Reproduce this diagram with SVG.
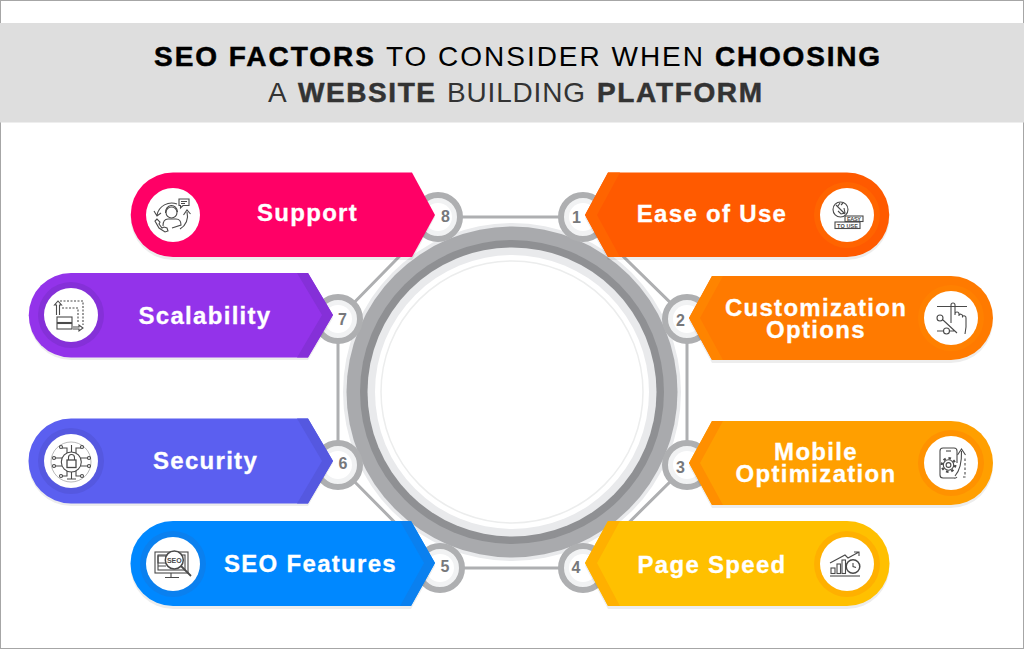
<svg xmlns="http://www.w3.org/2000/svg" width="1024" height="649" viewBox="0 0 1024 649">
<style>
.t{font-family:"Liberation Sans",Arial,sans-serif;font-size:28px}
.b{font-weight:700;stroke-width:.5px}
.k{fill:#000;stroke:#000}
.g{fill:#333;stroke:#333}
.r{stroke:none}
.l{font-family:"Liberation Sans",Arial,sans-serif;font-weight:700;font-size:24px;letter-spacing:1.3px;fill:#fff;stroke:#fff;stroke-width:.3px;text-anchor:middle}
.n{font-family:"Liberation Sans",Arial,sans-serif;font-weight:700;font-size:16px;fill:#77787b;text-anchor:middle}
.c{fill:none;stroke:#aeafb1;stroke-width:3}
.o{fill:#f1f2f3;stroke:#aeafb1;stroke-width:6}
.w{fill:#fff}
.ic{fill:none;stroke:#4a4a4a;stroke-width:1.100}
.it{font-family:"Liberation Sans",Arial,sans-serif;font-weight:700;fill:#4a4a4a}
.sh{fill:#000;opacity:.07}
</style>
<rect x="0.5" y="0.5" width="1023" height="648" fill="#fff" stroke="#a6a6a6"/>
<g id="title">
<rect x="0" y="23" width="1024" height="99.500" fill="#dedede"/>
<text class="t b k" x="154" y="66" textLength="220" lengthAdjust="spacing">SEO FACTORS</text>
<text class="t r" fill="#000" x="386" y="66" textLength="317" lengthAdjust="spacing">TO CONSIDER WHEN</text>
<text class="t b k" x="715" y="66" textLength="165" lengthAdjust="spacing">CHOOSING</text>
<text class="t r" fill="#333" x="268" y="102">A</text>
<text class="t b g" x="298" y="102" textLength="137" lengthAdjust="spacing">WEBSITE</text>
<text class="t r" fill="#333" x="447" y="102" textLength="138" lengthAdjust="spacing">BUILDING</text>
<text class="t b g" x="597" y="102" textLength="165" lengthAdjust="spacing">PLATFORM</text>
</g>
<g id="connectors">
<path class="c" d="M438 217H583L687 319V465L583 568H440L338 465V319L438 217Z"/>
</g>
<g id="ring">
<circle cx="512" cy="392" r="169" fill="#e9eaec"/>
<circle cx="512" cy="392" r="165.500" fill="#a9aaad"/>
<circle cx="512" cy="392" r="152" fill="#8f9093"/>
<circle cx="512" cy="392" r="144.500" fill="#e9eaec"/>
<circle cx="512" cy="392" r="137" fill="#fff"/>
<circle cx="512" cy="392" r="131" fill="#fff" stroke="#eceded" stroke-width="1.500"/>
</g>
<g id="step-1"><circle class="o" cx="583" cy="217" r="22"/><circle class="w" cx="583" cy="217" r="14"/><text class="n" x="576.500" y="223">1</text>
<path class="sh" d="M608 175H847A42 42 0 0 1 847 260H608L585 218Z"/>
<path fill="#ff5a00" d="M608 172.500H847A42.200 42.200 0 0 1 847 257H608L585 215Z"/>
<path fill="#ff6400" d="M608 172.500H620L597 215L620 257H608L585 215Z"/>
<circle cx="847" cy="215" r="33" fill="#ff6400"/><circle class="w" cx="847" cy="215" r="27"/>
<g class="ic"><circle cx="840.500" cy="209.500" r="7.500"/><path d="M836 205L845 214M838 206l2-3M841 205l2-2M838 211l3 3 4-1-1-5"/><rect x="845" y="216" width="18" height="5.500"/><rect x="835" y="222" width="25" height="6.500"/></g>
<text class="it" x="847" y="221" font-size="5.500" textLength="14">EASY</text><text class="it" x="837" y="228" font-size="5.500" textLength="21">TO USE</text>
<text class="l" x="712" y="222">Ease of Use</text></g>
<g id="step-2"><circle class="o" cx="687" cy="319" r="22"/><circle class="w" cx="687" cy="319" r="14"/><text class="n" x="680.500" y="326">2</text>
<path class="sh" d="M712 279H951A42 42 0 0 1 951 363H712L689 321Z"/>
<path fill="#ff7a00" d="M712 276H951A42 42 0 0 1 951 360H712L689 318Z"/>
<path fill="#ff8400" d="M712 276H723L700 318L723 360H712L689 318Z"/>
<circle cx="951" cy="318" r="33" fill="#ff8000"/><circle class="w" cx="951" cy="318" r="27"/>
<g class="ic"><path d="M937 306.500H967M937 331H943M950 331H955M943 320L957 333"/><circle cx="940" cy="318" r="3"/><circle cx="946.500" cy="331" r="3"/><path d="M951 323V305a2 2 0 0 1 4 0V315M955 314a2 2 0 0 1 4 0v2M959 315a2 2 0 0 1 3.500 .5v2M962.500 316.500a2 2 0 0 1 3.500 1.500V327L965 334"/></g>
<text class="l" x="816" y="316">Customization</text><text class="l" x="816" y="338">Options</text></g>
<g id="step-3"><circle class="o" cx="687" cy="465" r="22"/><circle class="w" cx="687" cy="465" r="14"/><text class="n" x="680.500" y="472.500">3</text>
<path class="sh" d="M712 424H951A42 42 0 0 1 951 508H712L689 466Z"/>
<path fill="#ff9f00" d="M712 421H951A42 42 0 0 1 951 505H712L689 463Z"/>
<path fill="#ff8f00" d="M712 421H723L700 463L723 505H712L689 463Z"/>
<circle cx="951" cy="463" r="33" fill="#ff9200"/><circle class="w" cx="951" cy="463" r="27"/>
<g class="ic"><path d="M957 463V451a3 3 0 0 0-3-3H943a3 3 0 0 0-3 3V475a3 3 0 0 0 3 3H954a3 3 0 0 0 3-1"/><path d="M946 451h5"/><circle cx="948.500" cy="465" r="6.800" stroke-width="2.200" stroke-dasharray="2.500 2.800"/><circle cx="948.500" cy="465" r="5.200" fill="#fff"/><circle cx="948.500" cy="465" r="2.400"/><path d="M955 476Q962 468 961.500 451M957.500 455L961.500 449L965.500 455"/><path d="M963 477H965V458" stroke-dasharray="2.500 2"/></g>
<text class="l" x="816" y="460">Mobile</text><text class="l" x="816" y="482">Optimization</text></g>
<g id="step-4"><circle class="o" cx="583" cy="568" r="22"/><circle class="w" cx="583" cy="568" r="14"/><text class="n" x="576" y="573">4</text>
<path class="sh" d="M608 524H847A42 42 0 0 1 847 609H608L585 566Z"/>
<path fill="#ffc000" d="M608 521H847A42.500 42.500 0 0 1 847 606H608L585 563Z"/>
<path fill="#ffb000" d="M608 521H620L597 563L620 606H608L585 563Z"/>
<circle cx="847" cy="564" r="33" fill="#ffb000"/><circle class="w" cx="847" cy="564" r="27"/>
<g class="ic"><path d="M830 576H860"/><rect x="831" y="568" width="4" height="5.500"/><rect x="837" y="564" width="3.500" height="9.500"/><rect x="842" y="560" width="3.500" height="13.500"/><path d="M830 563L845 555L848 558L859 552M854 552h5v4"/><circle cx="853" cy="566.500" r="6.800" stroke-width="1.500"/><path d="M853 563v3.500l3 1"/></g>
<text class="l" x="712" y="572.500">Page Speed</text></g>
<g id="step-5"><circle class="o" cx="440" cy="568" r="22"/><circle class="w" cx="440" cy="568" r="14"/><text class="n" x="445" y="571.500">5</text>
<path class="sh" d="M173 524H411L435 566L411 609H173A42 42 0 0 1 173 524Z"/>
<path fill="#0088ff" d="M173 521H411L435 563L411 606H173A42.500 42.500 0 0 1 173 521Z"/>
<path fill="#0a80ef" d="M400 521H411L435 563L411 606H400L424 563Z"/>
<circle cx="173" cy="564" r="33" fill="#0a80ef"/><circle class="w" cx="173" cy="564" r="27"/>
<g class="ic"><rect x="155" y="552" width="33" height="21"/><rect x="158" y="555" width="27" height="15"/><path d="M171 573v4M165 577.500H179M158 556h8v7h-8zM158 566h8"/><circle cx="174.300" cy="560" r="9" fill="#fff" stroke-width="1.500"/><path d="M181 566L191 576" stroke-width="1.800"/></g>
<text class="it" x="174.300" y="562.500" font-size="7" text-anchor="middle">SEO</text>
<text class="l" x="310.500" y="572">SEO Features</text></g>
<g id="step-6"><circle class="o" cx="338" cy="465" r="22"/><circle class="w" cx="338" cy="465" r="14"/><text class="n" x="343" y="469">6</text>
<path class="sh" d="M71 421H308L333 463L308 506H71A42 42 0 0 1 71 421Z"/>
<path fill="#5b5ff0" d="M71 418.500H308L333 461L308 503.500H71A42.500 42.500 0 0 1 71 418.500Z"/>
<path fill="#5558e0" d="M297 418.500H308L333 461L308 503.500H297L322 461Z"/>
<circle cx="71" cy="461" r="33" fill="#5558e0"/><circle class="w" cx="71" cy="461" r="27"/>
<g class="ic"><circle cx="71" cy="462" r="20" stroke="#999" stroke-width=".7"/><circle cx="71.300" cy="462" r="10"/><rect x="67" y="460" width="9" height="7.500" stroke-width="1.300"/><path d="M68.500 460v-2.500a3 3 0 0 1 6 0v2.500M62 448h5v5M81 448h-5v5M71.500 445v7M55 458h7M88 458h-7M55 466h7M88 466h-7M62 476h5v-5M81 476h-5v-5M71.500 472v7M67 479h9"/><circle cx="61" cy="447" r="1.500"/><circle cx="82" cy="447" r="1.500"/><circle cx="54" cy="458" r="1.500"/><circle cx="89" cy="458" r="1.500"/><circle cx="54" cy="466" r="1.500"/><circle cx="89" cy="466" r="1.500"/><circle cx="61" cy="476" r="1.500"/><circle cx="82" cy="476" r="1.500"/></g>
<text class="l" x="205.500" y="468.500">Security</text></g>
<g id="step-7"><circle class="o" cx="338" cy="319" r="22"/><circle class="w" cx="338" cy="319" r="14"/><text class="n" x="342.500" y="325">7</text>
<path class="sh" d="M71 276H308L333 318L308 360H71A42 42 0 0 1 71 276Z"/>
<path fill="#9333ea" d="M71 273H308L333 315L308 357.500H71A42.200 42.200 0 0 1 71 273Z"/>
<path fill="#8530d8" d="M297 273H308L333 315L308 357.500H297L322 315Z"/>
<circle cx="71" cy="315" r="33" fill="#8530d8"/><circle class="w" cx="71" cy="315" r="27"/>
<g class="ic"><path d="M60 301H83V325" stroke-dasharray="2 1.500"/><path d="M62 308H78V322" stroke-dasharray="2 1.500"/><rect x="57" y="317" width="15" height="5.500"/><rect x="57" y="323.500" width="15" height="5.500"/><path d="M56.500 315V305h-2l3.500-4 3.500 4h-2v10M73 327h6v-2l4 3-4 3v-2h-6"/></g>
<text class="l" x="205" y="323.500">Scalability</text></g>
<g id="step-8"><circle class="o" cx="438" cy="217" r="22"/><circle class="w" cx="438" cy="217" r="14"/><text class="n" x="445.500" y="221.500">8</text>
<path class="sh" d="M173 175H412L435 217L412 260H173A42 42 0 0 1 173 175Z"/>
<path fill="#ff0066" d="M173 172.500H412L435 215L412 257H173A42.200 42.200 0 0 1 173 172.500Z"/>
<circle class="w" cx="173" cy="215" r="27"/>
<g class="ic"><circle cx="171.500" cy="212.500" r="5.500"/><path d="M165.500 213a6 7 0 0 1 12 -1M163 226Q163 219 168 219H176Q181 219 181 225L172 228"/><path d="M177 204A15 15 0 0 0 157 215M154 211l3 5 4-3M187 212A15 15 0 0 1 180 229M183.500 215l3.500-5 3.500 4"/><path d="M157 219l-2 2 4 7 6 4 3-1-1-3-3-1-2 1-3-4 1-2z"/><path d="M179 199h10v6.500h-6l-2.500 2.500v-2.500H179zM181 201.500h6M181 203.500h4"/></g>
<text class="l" x="307.500" y="220.500">Support</text></g>
</svg>
